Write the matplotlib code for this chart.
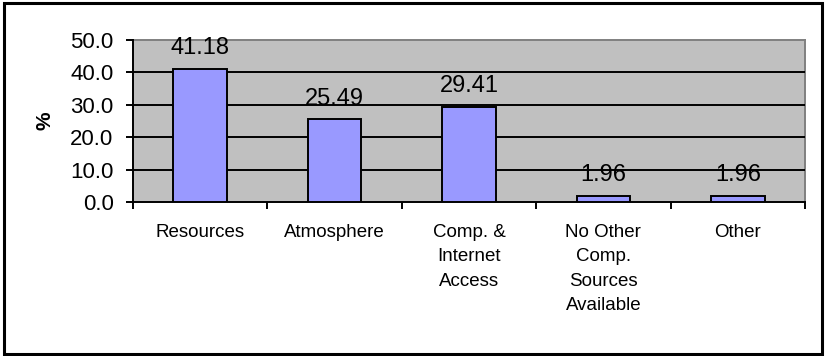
import numpy as np
import matplotlib.pyplot as plt
from matplotlib.patches import Rectangle

categories = ['Resources', 'Atmosphere', 'Comp. &\nInternet\nAccess',
              'No Other\nComp.\nSources\nAvailable', 'Other']
values = [41.18, 25.49, 29.41, 1.96, 1.96]
y_ticks = [0, 10, 20, 30, 40, 50]

plt.rcParams['font.family'] = ['Liberation Sans', 'DejaVu Sans']

fig = plt.figure(figsize=(8.25, 3.56), dpi=100)
ax = fig.add_axes([133 / 825, 154 / 356, 672 / 825, 162 / 356])
ax.set_facecolor('#C0C0C0')

x = np.arange(len(categories))
ax.bar(x, values, width=0.4, color='#9999FF', edgecolor='black',
       linewidth=1.4, zorder=3)

# horizontal gridlines sit on top of the value labels but behind the bars
for t in y_ticks[1:-1]:
    ax.axhline(t, color='black', linewidth=1.4, zorder=2)

for xi, v in zip(x, values):
    ax.annotate(f'{v:.2f}', (xi, v), xytext=(0, 10.5), textcoords='offset points',
                ha='center', va='baseline', fontsize=17, zorder=1)

ax.set_xlim(-0.5, len(categories) - 0.5)
ax.set_ylim(0, 50)
ax.set_yticks(y_ticks)
ax.set_yticklabels([f'{t:.1f}' for t in y_ticks])
ax.tick_params(axis='y', direction='out', length=5, width=1.4, pad=9,
               labelsize=16)

# boundary ticks on the category axis, labels centred on the bars
ax.set_xticks(np.arange(len(categories) + 1) - 0.5)
ax.set_xticklabels([])
ax.tick_params(axis='x', which='major', direction='out', length=5, width=1.4)
ax.set_xticks(x, minor=True)
ax.set_xticklabels(categories, minor=True, linespacing=1.55)
ax.tick_params(axis='x', which='minor', length=0, pad=16, labelsize=13.5)

for side in ['left', 'bottom']:
    ax.spines[side].set_color('black')
    ax.spines[side].set_linewidth(1.4)
for side in ['top', 'right']:
    ax.spines[side].set_color('#808080')
    ax.spines[side].set_linewidth(1.4)
    ax.spines[side].set_zorder(0.5)

ax.set_ylabel('%', fontsize=15, fontweight='bold', labelpad=11)

# frame around the whole chart
fig.patches.append(Rectangle((3.5 / 825, 2.5 / 356), 818 / 825, 351 / 356,
                             transform=fig.transFigure, fill=False,
                             edgecolor='black', linewidth=2.2))

fig.savefig('out.png', dpi=100)
